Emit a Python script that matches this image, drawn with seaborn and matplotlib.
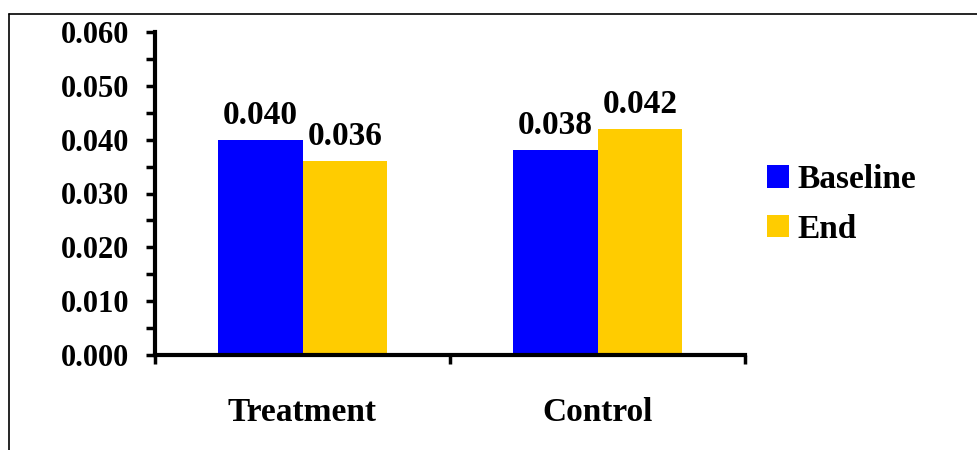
import pandas as pd
import matplotlib
matplotlib.use('Agg')
import matplotlib.pyplot as plt
import seaborn as sns
from matplotlib.lines import Line2D
from matplotlib.ticker import MultipleLocator, FormatStrFormatter

groups = ['Treatment', 'Control']
periods = ['Baseline', 'End']
baseline = [0.040, 0.038]
end = [0.036, 0.042]
colors = ['#0000FF', '#FFCC00']

df = pd.DataFrame({
    'group': groups * 2,
    'period': ['Baseline'] * 2 + ['End'] * 2,
    'value': baseline + end,
})

sns.set_style('white')
plt.rcParams['font.family'] = ['Liberation Serif', 'DejaVu Serif']
plt.rcParams['font.weight'] = 'bold'
plt.rcParams['text.color'] = 'black'
plt.rcParams['xtick.color'] = 'black'
plt.rcParams['ytick.color'] = 'black'

fig = plt.figure(figsize=(9.77, 4.5), dpi=100)
ax = fig.add_axes([155 / 977, 1 - 355 / 450, 590 / 977, 323 / 450])

sns.barplot(data=df, x='group', y='value', hue='period', order=groups,
            hue_order=periods, palette=colors, width=0.576, gap=0,
            saturation=1, edgecolor='none', linewidth=0, ax=ax)

for cont in ax.containers:
    ax.bar_label(cont, fmt='%.3f', padding=6.5, fontsize=24, fontweight='bold',
                 color='black')

ax.set_xlim(-0.5, 1.5)
ax.set_ylim(0, 0.060)
ax.yaxis.set_major_locator(MultipleLocator(0.010))
ax.yaxis.set_minor_locator(MultipleLocator(0.005))
ax.yaxis.set_major_formatter(FormatStrFormatter('%.3f'))
ax.set_xticks([-0.5, 0.5, 1.5])
ax.set_xticklabels(['', '', ''])
ax.set_xticks([0, 1], minor=True)
ax.set_xticklabels(groups, minor=True)

for s in ['top', 'right']:
    ax.spines[s].set_visible(False)
for s in ['left', 'bottom']:
    ax.spines[s].set_linewidth(3)
    ax.spines[s].set_color('black')

ax.tick_params(axis='y', which='both', direction='out', length=6.5, width=2.5,
               left=True, labelsize=22, pad=12, labelcolor='black')
ax.tick_params(axis='x', which='major', direction='out', length=6.5, width=2.5,
               bottom=True)
ax.tick_params(axis='x', which='minor', length=0, labelsize=24, pad=30.5,
               labelcolor='black')
for lab in ax.get_yticklabels() + ax.get_xticklabels(minor=True):
    lab.set_fontweight('bold')

ax.set_xlabel('')
ax.set_ylabel('')

leg = ax.legend(loc='center left', bbox_to_anchor=(1.037, 0.466), frameon=False,
                fontsize=24, handlelength=0.68, handleheight=0.68,
                handletextpad=0.25, labelspacing=0.55, borderpad=0,
                borderaxespad=0)
for t in leg.get_texts():
    t.set_fontweight('bold')
    t.set_color('black')

# outer frame
fig.add_artist(Line2D([9 / 977, 1.0], [1 - 14 / 450, 1 - 14 / 450],
                      transform=fig.transFigure, color='black', lw=1.2))
fig.add_artist(Line2D([9 / 977, 9 / 977], [0, 1 - 14 / 450],
                      transform=fig.transFigure, color='black', lw=1.2))

fig.savefig('out.png', dpi=100)
